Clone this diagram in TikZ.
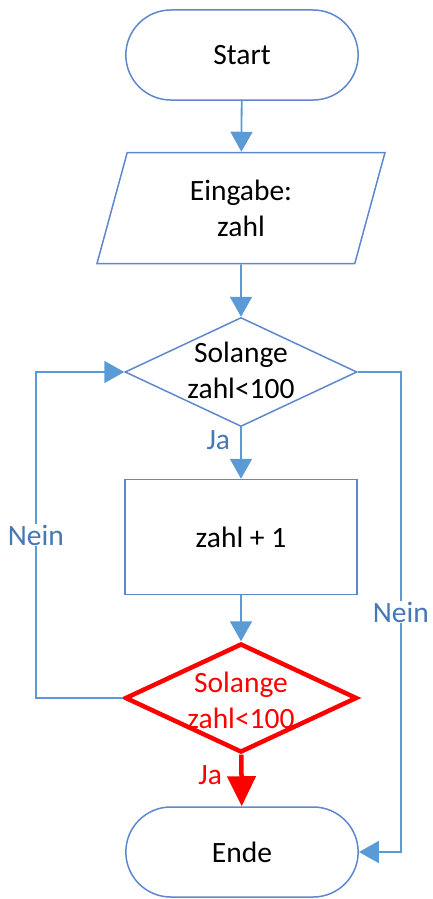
\documentclass[tikz,border=0pt]{standalone}
\usepackage{fontspec}
\setmainfont{Carlito}
\usetikzlibrary{shapes.geometric, shapes.misc, arrows.meta}
\definecolor{flowblue}{RGB}{91,155,213}
\definecolor{edgeblue}{RGB}{95,135,205}
\definecolor{labelblue}{RGB}{70,120,180}
\definecolor{alertred}{RGB}{255,0,0}

\begin{document}
\begin{tikzpicture}[
    x=1pt, y=-1pt,
    every node/.style={font=\fontsize{29.5}{36}\selectfont},
    terminal/.style={rounded rectangle, draw=edgeblue, line width=1.5pt, minimum width=239pt, minimum height=90pt},
    inout/.style={trapezium, trapezium left angle=64.5, trapezium right angle=115.5, trapezium stretches body, draw=edgeblue, line width=1.5pt, minimum width=288pt, minimum height=111pt, align=center},
    process/.style={rectangle, draw=edgeblue, line width=1.5pt, minimum width=232pt, minimum height=115pt},
    decision/.style={diamond, draw=edgeblue, line width=1.5pt, minimum width=232pt, minimum height=109pt, inner sep=0pt},
    flow/.style={-{Triangle[width=22pt, length=20pt]}, draw=flowblue, line width=1.8pt},
    redflow/.style={-{Triangle[width=28pt, length=30pt]}, draw=alertred, line width=4.5pt},
    tag/.style={text=labelblue, fill=white, inner sep=1pt}
]
    \useasboundingbox (0,0) rectangle (432,899);
    \node[terminal] (start) at (242,55) {Start};
    \node[inout] (input) at (241,208) {Eingabe:\\zahl};
    \node[decision] (loop) at (241,372) {};
    \node[align=center] (looptext) at (241,370) {Solange\\zahl<100};
    \node[process] (step) at (241,537) {zahl + 1};
    \node[decision, draw=alertred, line width=4.5pt] (check) at (241,698) {};
    \node[align=center, text=alertred] (checktext) at (241,700) {Solange\\zahl<100};
    \node[terminal] (ende) at (242,852) {Ende};
    \draw[flow] (start) -- (input);
    \draw[flow] (input) -- (loop);
    \draw[flow] (loop) -- (step) node[pos=0.25, left=9pt, tag] {Ja};
    \draw[flow] (step) -- (check);
    \draw[redflow] (check) -- (ende) node[pos=0.4, left=14pt, text=alertred] {Ja};
    \draw[flow] (check.west) -- ++(-87,0) |- node[pos=0.25, tag] {Nein} (loop.west);
    \draw[flow] (loop.east) -- ++(43,0) |- node[pos=0.25, tag] {Nein} (ende.east);
\end{tikzpicture}
\end{document}
